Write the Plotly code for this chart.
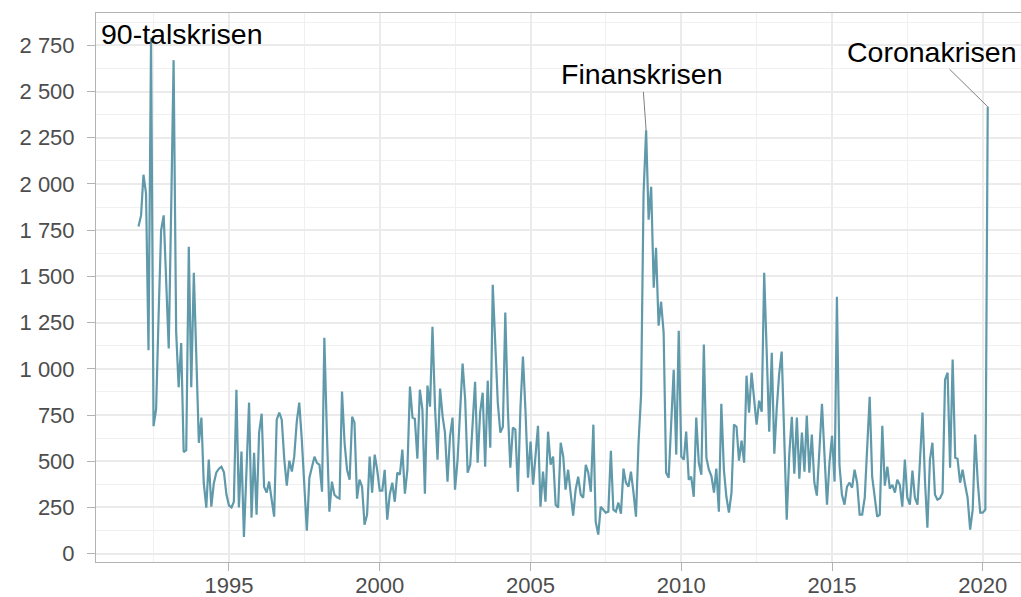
import pandas as pd
import plotly.graph_objects as go

# Monthly values, Jan 1992 - Mar 2020
start_month = "1992-01-01"
values = [
    1770, 1830, 2050, 1950, 1100, 2790, 690, 780, 1300, 1750, 1830, 1450,   # 1992
    1110, 1900, 2670, 1200, 900, 1140, 550, 560, 1660, 900, 1520, 1070,     # 1993
    600, 736, 384, 249, 509, 254, 380, 440, 460, 470, 440, 320,             # 1994
    260, 250, 281, 887, 250, 552, 90, 450, 817, 195, 546, 211,              # 1995
    655, 757, 362, 330, 390, 292, 200, 725, 763, 725, 509, 368,             # 1996
    503, 444, 525, 714, 817, 617, 350, 124, 411, 470, 525, 492,             # 1997
    481, 335, 1168, 650, 227, 390, 319, 305, 298, 877, 600, 454,            # 1998
    400, 741, 709, 298, 400, 362, 157, 211, 525, 330, 536, 454,             # 1999
    341, 341, 454, 184, 319, 384, 281, 438, 427, 563, 325, 454,             # 2000
    904, 736, 730, 514, 887, 779, 325, 909, 795, 1228, 790, 509,            # 2001
    893, 741, 655, 390, 633, 736, 346, 509, 760, 1028, 833, 438,            # 2002
    481, 709, 930, 492, 763, 871, 471, 936, 573, 1455, 1158, 817,           # 2003
    655, 687, 1304, 779, 465, 682, 671, 335, 795, 1066, 768, 411,           # 2004
    606, 373, 525, 692, 254, 444, 281, 660, 481, 525, 265, 249,             # 2005
    600, 525, 346, 454, 330, 206, 346, 417, 319, 303, 481, 438,             # 2006
    335, 698, 173, 103, 254, 238, 222, 227, 557, 238, 227, 276,             # 2007
    216, 460, 384, 362, 444, 330, 200, 600, 860, 1950, 2290, 1807,          # 2008
    1985, 1439, 1655, 1233, 1363, 1196, 438, 411, 709, 995, 536, 1206,      # 2009
    525, 509, 660, 400, 417, 308, 736, 492, 427, 1131, 519, 454,            # 2010
    420, 330, 460, 227, 811, 454, 308, 222, 330, 698, 687, 503,             # 2011
    611, 492, 963, 763, 979, 833, 698, 828, 768, 1520, 1012, 660,           # 2012
    1087, 541, 779, 974, 1093, 644, 184, 536, 741, 433, 736, 406,           # 2013
    655, 444, 747, 438, 644, 384, 314, 560, 811, 540, 265, 492,             # 2014
    638, 390, 1390, 481, 319, 265, 362, 384, 357, 454, 384, 211,            # 2015
    211, 303, 590, 849, 417, 319, 200, 211, 692, 368, 471, 352,             # 2016
    373, 330, 400, 373, 254, 509, 303, 265, 449, 303, 265, 500,             # 2017
    763, 384, 141, 509, 600, 319, 292, 300, 330, 941, 979, 465,             # 2018
    1050, 519, 514, 384, 454, 373, 303, 130, 238, 644, 390, 222,            # 2019
    222, 238, 2418,                                                         # 2020
]
dates = pd.date_range(start_month, periods=len(values), freq="MS")

crisis_labels = ["90-talskrisen", "Finanskrisen", "Coronakrisen"]
crisis_months = ["1992-06-01", "2008-11-01", "2020-03-01"]

line_color = "#5F99AA"
grid_major = "#EBEBEB"
grid_minor = "#F0F0F0"
border = "#B3B3B3"
tick_text = "#4D4D4D"

fig = go.Figure()
fig.add_trace(go.Scatter(
    x=dates, y=values, mode="lines",
    line=dict(color=line_color, width=2.2),
    showlegend=False,
))

def val_at(month):
    return values[list(dates).index(pd.Timestamp(month))]

# 90-talskrisen (no connector)
fig.add_annotation(
    x=crisis_months[0], y=val_at(crisis_months[0]), text=crisis_labels[0],
    showarrow=False, xanchor="left", yanchor="middle",
    xshift=-52, yshift=4,
    font=dict(size=28.5, color="black", family="Liberation Sans"),
)
# Finanskrisen
fig.add_annotation(
    x=crisis_months[1], y=val_at(crisis_months[1]), text=crisis_labels[1],
    showarrow=True, arrowhead=0, arrowwidth=1, arrowcolor="#7F7F7F",
    ax=-4, ay=-56, standoff=0,
    font=dict(size=28.5, color="black", family="Liberation Sans"),
)
# Coronakrisen
fig.add_annotation(
    x=crisis_months[2], y=val_at(crisis_months[2]), text=crisis_labels[2],
    showarrow=True, arrowhead=0, arrowwidth=1, arrowcolor="#7F7F7F",
    ax=-56, ay=-55, standoff=0,
    font=dict(size=28.5, color="black", family="Liberation Sans"),
)

fig.update_layout(
    width=1021, height=597,
    margin=dict(l=96, r=0, t=13, b=35, autoexpand=False),
    plot_bgcolor="white", paper_bgcolor="white",
    separators=", ",
    font=dict(family="Liberation Sans", size=22, color=tick_text),
    xaxis=dict(
        type="date", automargin=False,
        range=["1990-08-04", "2021-04-08"],
        tick0="1995-01-01", dtick="M60", tickformat="%Y",
        showgrid=True, gridcolor=grid_major, gridwidth=2,
        minor=dict(dtick="M30", tick0="1992-07-01", showgrid=True,
                   gridcolor=grid_minor, gridwidth=1, ticks=""),
        ticks="outside", ticklen=8, tickcolor=border, tickwidth=1,
        showline=True, linecolor=border, linewidth=1, mirror=True,
        zeroline=False,
        ticklabelstandoff=-4,
        tickfont=dict(size=22, color=tick_text),
    ),
    yaxis=dict(
        automargin=False,
        range=[-45, 2925],
        tick0=0, dtick=250, tickformat=",d",
        showgrid=True, gridcolor=grid_major, gridwidth=2,
        minor=dict(dtick=125, showgrid=True, gridcolor=grid_minor,
                   gridwidth=1, ticks=""),
        ticks="outside", ticklen=8, tickcolor=border, tickwidth=1,
        showline=True, linecolor=border, linewidth=1, mirror=True,
        zeroline=False,
        ticklabelstandoff=8,
        tickfont=dict(size=22, color=tick_text),
    ),
)

fig.write_html(
    "out.html",
    config={"displayModeBar": False},
    post_script="document.body.style.margin='0';document.body.style.padding='0';document.body.style.overflow='hidden';",
)
